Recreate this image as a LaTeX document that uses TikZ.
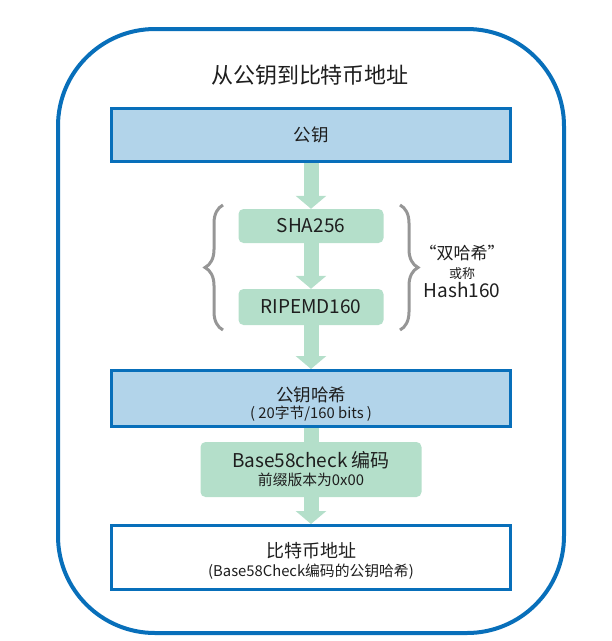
\documentclass[tikz,border=0pt]{standalone}
\usepackage{fontspec}
\setmainfont{Noto Sans CJK SC}
\usetikzlibrary{arrows.meta,decorations.pathreplacing}
\pgfdeclarelayer{background}
\pgfsetlayers{background,main}
\definecolor{keyblue}{RGB}{8,111,186}
\definecolor{keyfill}{RGB}{178,212,234}
\definecolor{hashgreen}{RGB}{180,223,202}
\definecolor{bracegray}{RGB}{150,150,150}
\definecolor{inkblack}{RGB}{30,30,30}
\tikzset{
  bluebox/.style={draw=keyblue, line width=3pt, fill=keyfill, minimum width=399pt, inner sep=0pt, align=center},
  whitebox/.style={bluebox, fill=white},
  greenbox/.style={fill=hashgreen, rounded corners=5pt, inner sep=0pt, align=center},
  flow/.style={draw=hashgreen, line width=15pt, -{Triangle[width=30pt,length=13pt]}},
  flowlink/.style={draw=hashgreen, line width=15pt},
  curly/.style={draw=bracegray, line width=3pt, decorate, decoration={brace,amplitude=18pt}},
  bigfont/.style={font=\fontsize{17.5}{20}\selectfont},
  stepfont/.style={font=\fontsize{19}{20}\selectfont},
}
\newcommand{\subline}[1]{{\fontsize{14.8}{16}\selectfont #1}}
\newcommand{\toppad}[1]{\rule{0pt}{#1}}

\begin{document}
\begin{tikzpicture}[x=1pt,y=-1pt,text=inkblack]
  \useasboundingbox (0,0) rectangle (612,641);
  \draw[keyblue, line width=4pt, rounded corners=97pt] (58,29) rectangle (564,633);
  \node (title) at (310,75) {\fontsize{22}{24}\selectfont 从公钥到比特币地址};
  \node[bluebox, minimum height=53pt, bigfont] (pub) at (311,135) {公钥};
  \node[greenbox, minimum width=145pt, minimum height=34pt, stepfont] (sha) at (311,226) {SHA256};
  \node[greenbox, minimum width=145pt, minimum height=36pt, stepfont] (ripemd) at (311,307) {RIPEMD160};
  \node[bluebox, minimum height=56pt, bigfont] (pubhash) at (311,398.5)
    {\toppad{26pt}公钥哈希\\[-3.5pt]\subline{( 20字节/160 bits )}};
  \node[greenbox, minimum width=221pt, minimum height=55pt, font=\fontsize{19}{18}\selectfont] (base58) at (311,469.5)
    {Base58check 编码\\\subline{前缀版本为0x00}};
  \node[whitebox, minimum height=64pt, font=\fontsize{18}{19}\selectfont] (addr) at (311,557.5)
    {\toppad{22.5pt}比特币地址\\\subline{(Base58Check编码的公钥哈希)}};
  \node[align=center, font=\fontsize{13}{19}\selectfont] (dblhash) at (462,271)
    {{\fontsize{17}{19}\selectfont “双哈希”}\\或称\\{\fontsize{19}{19}\selectfont Hash160}};
  % braces round the two hash steps
  \coordinate (lbrace top) at (223,205);
  \coordinate (lbrace bot) at (223,330);
  \coordinate (rbrace top) at (400,205);
  \coordinate (rbrace bot) at (400,330);
  \draw[curly] (lbrace bot) -- (lbrace top);
  \draw[curly] (rbrace top) -- (rbrace bot);
  \begin{pgfonlayer}{background}
    \draw[flow] (pub) -- (sha);
    \draw[flow] (sha) -- (ripemd);
    \draw[flow] (ripemd) -- (pubhash);
    \draw[flowlink] (pubhash) -- (base58);
    \draw[flow] (base58) -- (addr);
  \end{pgfonlayer}
\end{tikzpicture}
\end{document}
